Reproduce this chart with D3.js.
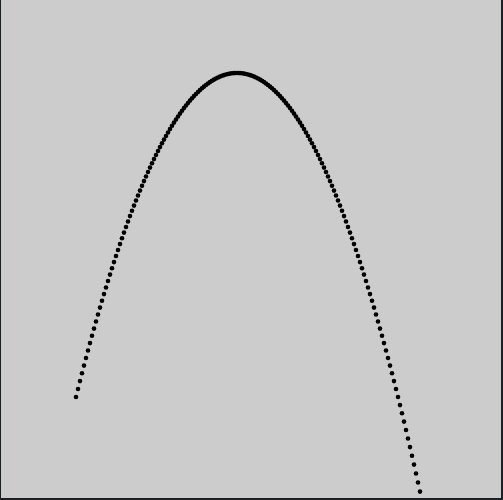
<!DOCTYPE html>
<html>
<head>
<meta charset="utf-8">
<script src="https://cdn.jsdelivr.net/npm/d3@7"></script>
<style>
  body { margin: 0; background: #cccccc; overflow: hidden; }
</style>
</head>
<body>
<script>
// heights of the dots, left to right, one sample per step
const ysLeft = [103, 111, 118.9, 126.7, 134.4, 142, 149.5, 156.9, 164.2, 171.4, 178.5, 185.5, 192.4, 199.2, 205.9, 212.5, 219, 225.4, 231.7, 237.9,
  244, 250, 255.9, 261.7, 267.4, 273, 278.5, 283.9, 289.2, 294.4, 299.5, 304.5, 309.4, 314.2, 318.9, 323.5, 328, 332.4, 336.7, 340.9,
  345, 349, 352.9, 356.7, 360.4, 364, 367.5, 370.9, 374.2, 377.4, 380.5, 383.5, 386.4, 389.2, 391.9, 394.5, 397, 399.4, 401.7, 403.9,
  406, 408, 409.9, 411.7, 413.4, 415, 416.5, 417.9, 419.2, 420.4, 421.5, 422.5, 423.4, 424.2, 424.9, 425.5, 426, 426.4, 426.7, 426.9, 427];
const ysRight = [427, 426.9, 426.7, 426.4, 426, 425.5, 424.9, 424.2, 423.4, 422.5, 421.5, 420.4, 419.2, 417.9, 416.5, 415, 413.4, 411.7, 409.9, 408,
  406, 403.9, 401.7, 399.4, 397, 394.5, 391.9, 389.2, 386.4, 383.5, 380.5, 377.4, 374.2, 370.9, 367.5, 364, 360.4, 356.7, 352.9, 349,
  345, 340.9, 336.7, 332.4, 328, 323.5, 318.9, 314.2, 309.4, 304.5, 299.5, 294.4, 289.2, 283.9, 278.5, 273, 267.4, 261.7, 255.9, 250,
  244, 237.9, 231.7, 225.4, 219, 212.5, 205.9, 199.2, 192.4, 185.5, 178.5, 171.4, 164.2, 156.9, 149.5, 142, 134.4, 126.7, 118.9, 111,
  103, 94.9, 86.7, 78.4, 70, 61.5, 52.9, 44.2, 35.4, 26.5, 17.5, 8.4];

const ys = ysLeft.concat(ysRight);
const dataset = ys.map((y, i) => ({ x: i, y: y }));

const w = 503;
const h = 500;

const svg = d3.select("body")
	.append("svg")
	.attr("width", w)
	.attr("height", h)
	.style("display", "block");

svg.append("rect")
	.attr("width", w)
	.attr("height", h)
	.attr("fill", "#cccccc");

const x = d3.scaleLinear().domain([0, ys.length - 1]).range([76, 420]);
const y = d3.scaleLinear().domain([0, 500]).range([500, 0]);

svg.selectAll("circle").data(dataset).enter()
	.append("circle")
	.attr("cx", d => x(d.x))
	.attr("cy", d => y(d.y))
	.attr("r", 2.3)
	.attr("fill", "#000");

// frame: left, right and bottom edges only
svg.append("line").attr("x1", 0.5).attr("y1", 0).attr("x2", 0.5).attr("y2", h)
	.attr("stroke", "#1b2024").attr("stroke-width", 1);
svg.append("line").attr("x1", 502).attr("y1", 0).attr("x2", 502).attr("y2", h)
	.attr("stroke", "#1b2024").attr("stroke-width", 2);
svg.append("line").attr("x1", 0).attr("y1", 499).attr("x2", w).attr("y2", 499)
	.attr("stroke", "#1b2024").attr("stroke-width", 2);
</script>
</body>
</html>
